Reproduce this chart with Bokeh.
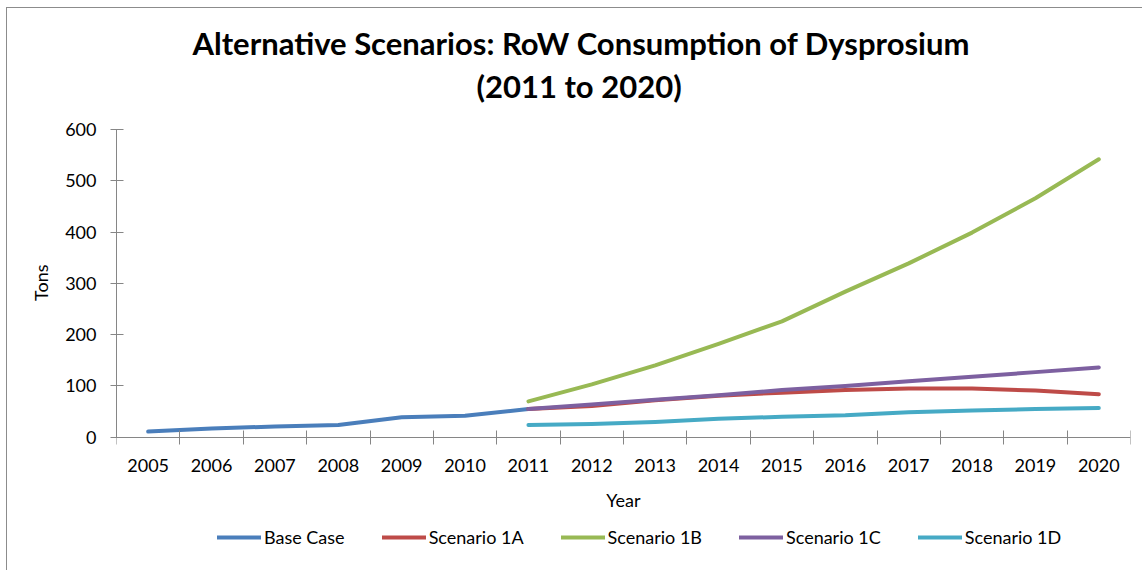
from bokeh.plotting import figure
from bokeh.models import Range1d, FixedTicker, Legend, LegendItem, Title, ColumnDataSource
from bokeh.embed import file_html
from bokeh.resources import INLINE

# ---- data ----
years = [str(y) for y in range(2005, 2021)]
base_years = years[:7]
base_case = [11, 17, 21, 24, 39, 42, 55]
scen_years = years[6:]
scenario_1a = [55, 61, 72, 81, 87, 92, 95, 95, 91, 84]
scenario_1b = [70, 103, 140, 182, 226, 284, 339, 399, 466, 542]
scenario_1c = [55, 64, 73, 82, 92, 100, 109, 118, 127, 136]
scenario_1d = [24, 26, 30, 36, 40, 43, 49, 52, 55, 57]
y_ticks = [0, 100, 200, 300, 400, 500, 600]

series = [
    ("Base Case", base_years, base_case, "#4A7EBB"),
    ("Scenario 1A", scen_years, scenario_1a, "#BE4B48"),
    ("Scenario 1B", scen_years, scenario_1b, "#98B954"),
    ("Scenario 1C", scen_years, scenario_1c, "#7D60A0"),
    ("Scenario 1D", scen_years, scenario_1d, "#46AAC5"),
]

FONT = "Lato"
AXIS_COLOR = "#868686"
TXT = "18px"

# frame extends below the x axis (room for axis labels + legend); x axis pinned at y=0
p = figure(frame_width=1014, frame_height=436, output_backend="svg", toolbar_location=None,
           x_range=Range1d(0, len(years)), y_range=Range1d(-250, 600),
           min_border_left=109, min_border_top=121, min_border_right=12, min_border_bottom=5,
           margin=(7, 0, 0, 6),
           styles={"border-top": "1px solid #8c8c8c", "border-left": "1px solid #8c8c8c"})
p.outline_line_color = None
p.xgrid.visible = False
p.ygrid.visible = False
p.background_fill_color = "white"
p.border_fill_color = "white"

items = []
for name, yrs, vals, color in series:
    src = ColumnDataSource(dict(x=[years.index(y) + 0.5 for y in yrs], y=vals))
    r = p.line("x", "y", source=src, line_color=color, line_width=4, line_cap="round", line_join="round")
    items.append(LegendItem(label=name, renderers=[r]))

# x axis: labels at category centres, tick marks at boundaries (minor ticks)
xa = p.xaxis[0]
xa.fixed_location = 0
xa.ticker = FixedTicker(ticks=[i + 0.5 for i in range(len(years))],
                        minor_ticks=list(range(len(years) + 1)))
xa.major_label_overrides = {i + 0.5: y for i, y in enumerate(years)}
xa.major_tick_in = 0
xa.major_tick_out = 0
xa.minor_tick_in = 7
xa.minor_tick_out = 7
xa.minor_tick_line_color = AXIS_COLOR
xa.axis_line_color = AXIS_COLOR
xa.major_label_standoff = 15
xa.major_label_text_font = FONT
xa.major_label_text_font_size = TXT
xa.major_label_text_color = "black"
xa.axis_label = "Year"
xa.axis_label_text_font = FONT
xa.axis_label_text_font_size = TXT
xa.axis_label_text_font_style = "normal"
xa.axis_label_text_color = "black"
xa.axis_label_standoff = 13

ya = p.yaxis[0]
ya.bounds = (0, 600)
ya.ticker = FixedTicker(ticks=y_ticks)
ya.major_tick_in = 7
ya.major_tick_out = 6
ya.major_tick_line_color = AXIS_COLOR
ya.minor_tick_line_color = None
ya.axis_line_color = AXIS_COLOR
ya.major_label_standoff = 14
ya.major_label_text_font = FONT
ya.major_label_text_font_size = TXT
ya.major_label_text_color = "black"

# y axis title, placed next to the 0-600 part of the axis
p.add_layout(Title(text="Tons", align="right", offset=135, text_font=FONT, text_font_size=TXT,
                   text_font_style="normal", text_color="black", standoff=21), "left")

legend = Legend(items=items, orientation="horizontal", location=(101, 17),
                spacing=37, glyph_width=44, glyph_height=20, label_standoff=3,
                padding=0, margin=0, border_line_color=None, background_fill_alpha=0,
                label_text_font=FONT, label_text_font_size=TXT, label_text_color="black")
p.add_layout(legend, "center")

# chart title: spacer, second line, first line (stacked upward from the frame)
p.add_layout(Title(text=" ", text_font_size="1px", standoff=22), "above")
p.add_layout(Title(text="(2011 to 2020)", align="left", offset=360, text_font=FONT,
                   text_font_size="31px", text_font_style="bold", text_color="black",
                   standoff=0), "above")
p.add_layout(Title(text="Alternative Scenarios:  RoW Consumption  of Dysprosium", align="left",
                   offset=76, text_font=FONT, text_font_size="31px", text_font_style="bold",
                   text_color="black", standoff=6), "above")

open("out.html", "w").write(file_html(p, INLINE))
